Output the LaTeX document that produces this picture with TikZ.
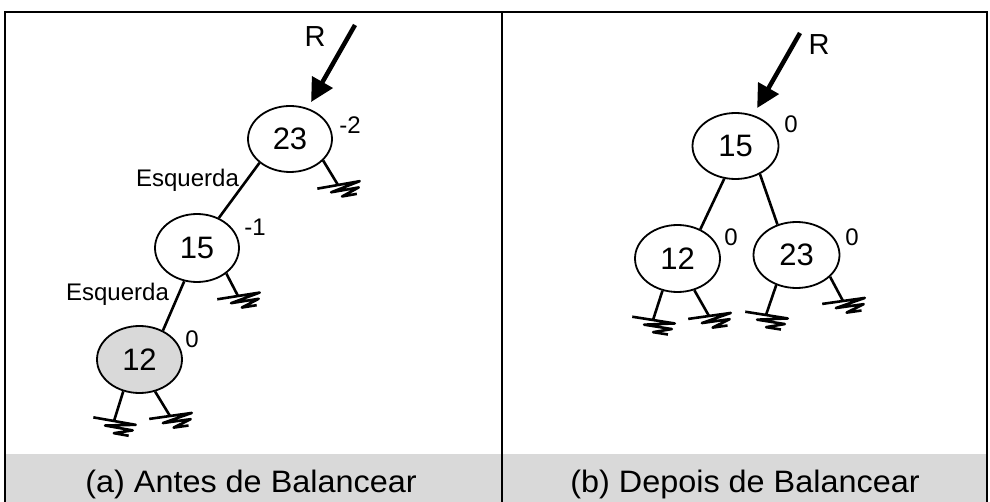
\documentclass[tikz,border=0pt]{standalone}
\usepackage{fontspec}
\setmainfont{Liberation Sans}
\usetikzlibrary{shapes.geometric,arrows.meta}
\definecolor{band}{HTML}{D9D9D9}
\newcommand{\groundat}[3]{%
  \draw[link] (#1) -- (#2);
  \pic[rotate=#3] at (#2) {gnd};
}
\begin{document}
\begin{tikzpicture}[x=1pt,y=-1pt,
  tnode/.style={ellipse,draw,line width=1.8pt,inner sep=0pt,font=\fontsize{31}{31}\selectfont},
  bal/.style={font=\fontsize{24}{24}\selectfont,inner sep=0pt},
  lbl/.style={font=\fontsize{24}{24}\selectfont,inner sep=0pt,anchor=base},
  rlbl/.style={font=\fontsize{29}{29}\selectfont,inner sep=0pt,anchor=base},
  captext/.style={font=\fontsize{31}{31}\selectfont,inner sep=0pt,anchor=base},
  link/.style={line width=2.6pt},
  rarrow/.style={line width=4.5pt,-{Triangle[length=23pt,width=23pt]},shorten >=7pt},
  gnd/.pic={\draw[line width=2.6pt,line join=round] (-21pt,0pt) -- (22pt,0pt) -- (-8pt,-6pt) -- (20pt,-6pt) -- (2pt,-12pt) -- (17pt,-12pt);}
]
\useasboundingbox (0,0) rectangle (990,502);
% frame and caption band
\fill[band] (5,454) rectangle (987,502);
\draw[line width=2pt] (5,502) -- (5,12) -- (987,12) -- (987,502);
\draw[line width=2pt] (502,12) -- (502,502);

% ---- left tree (a)
\node[tnode,minimum width=84pt,minimum height=66pt] (a23) at (290,139) {23};
\node[tnode,minimum width=84pt,minimum height=68pt] (a15) at (197,248) {15};
\node[tnode,fill=band,minimum width=85pt,minimum height=67pt] (a12) at (139.5,359.5) {12};
\node[bal] (ba23) at (350,125) {-2};
\node[bal] (ba15) at (255,227) {-1};
\node[bal] (ba12) at (192,339) {0};
\node[lbl] (e1) at (187.5,187) {Esquerda};
\node[lbl] (e2) at (117.5,301) {Esquerda};
\node[rlbl] (r1) at (315,47) {R};
\coordinate (ra) at (355,25);
\draw[rarrow] (ra) -- (a23);
\draw[link] (a23.218) -- (a15.54);
\draw[link] (a15.249) -- (a12.51);
\coordinate (ga1) at (338,185); \groundat{a23.327}{ga1}{10}
\coordinate (ga2) at (238,296); \groundat{a15.319}{ga2}{9}
\coordinate (ga3) at (114,421); \groundat{a12.243}{ga3}{-10}
\coordinate (ga4) at (170,416); \groundat{a12.296}{ga4}{8}

% ---- right tree (b)
\node[tnode,minimum width=86pt,minimum height=66pt] (b15) at (735.5,146) {15};
\node[tnode,minimum width=85pt,minimum height=67pt] (b12) at (677.5,258.5) {12};
\node[tnode,minimum width=86pt,minimum height=66pt] (b23) at (796.5,255) {23};
\node[bal] (bb15) at (791,124) {0};
\node[bal] (bb12) at (731,237) {0};
\node[bal] (bb23) at (852,237) {0};
\node[rlbl] (r2) at (819,55) {R};
\coordinate (rb) at (800,33);
\draw[rarrow,shorten >=8pt] (rb) -- (b15);
\draw[link] (b15.251) -- (b12.52);
\draw[link] (b15.311) -- (b23.122);
\coordinate (gb1) at (653,320); \groundat{b12.245}{gb1}{-9}
\coordinate (gb2) at (709,316); \groundat{b12.298}{gb2}{8}
\coordinate (gb3) at (766,315); \groundat{b23.236}{gb3}{-9}
\coordinate (gb4) at (843,301); \groundat{b23.327}{gb4}{8}

% captions
\node[captext] (ca) at (251,492) {\scalebox{1.045}[1]{(a) Antes de Balancear}};
\node[captext] (cb) at (745,492) {\scalebox{1.045}[1]{(b) Depois de Balancear}};
\end{tikzpicture}
\end{document}
